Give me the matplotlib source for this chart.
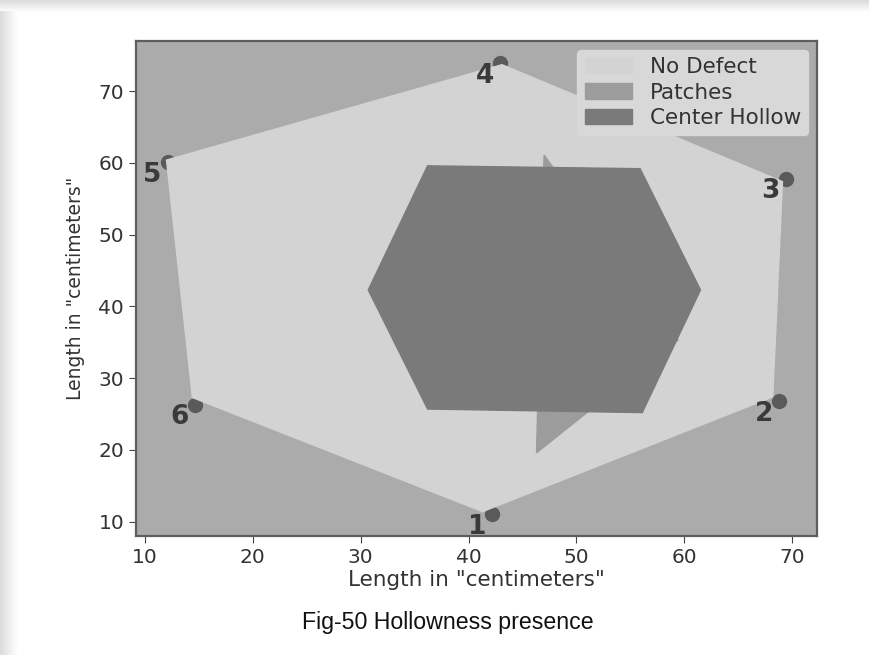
import matplotlib
matplotlib.use("Agg")
import matplotlib.pyplot as plt
from matplotlib import font_manager
from matplotlib.patches import Rectangle

# polygon outlines (x, y in centimeters)
no_defect_x = [41.3, 68.2, 69.1, 43.1, 12.0, 14.4]
no_defect_y = [11.4, 27.4, 57.4, 73.7, 60.4, 27.3]
patches_x = [47.0, 59.4, 46.3]
patches_y = [61.1, 35.3, 19.6]
hollow_x = [36.2, 55.9, 61.5, 56.1, 36.2, 30.7]
hollow_y = [59.6, 59.2, 42.3, 25.2, 25.7, 42.3]

# numbered measuring points
point_ids = ['1', '2', '3', '4', '5', '6']
point_x = [42.2, 68.8, 69.4, 42.9, 12.1, 14.6]
point_y = [11.0, 26.8, 57.8, 73.9, 60.1, 26.3]

# caption font: regular Liberation Sans (not the narrow one)
cap_font = None
for f in font_manager.findSystemFonts():
    if f.endswith('LiberationSans-Regular.ttf'):
        cap_font = font_manager.FontProperties(fname=f, size=16.7)
        break
if cap_font is None:
    cap_font = font_manager.FontProperties(family='Liberation Sans', size=16.7)

fig = plt.figure(figsize=(8.69, 6.55), dpi=100)

# page shadow behind the figure (screenshot look)
for i in range(12):
    c = 0.86 + 0.012 * i
    fig.patches.append(Rectangle((0, 1 - (i + 1) / 655), 1, 1 / 655, transform=fig.transFigure,
                                 facecolor=(c, c, c), edgecolor='none', zorder=-10))
for i in range(17):
    c = 0.86 + 0.008 * i
    fig.patches.append(Rectangle((i / 869, 0), 1 / 869, 1 - 11 / 655, transform=fig.transFigure,
                                 facecolor=(c, c, c), edgecolor='none', zorder=-10))

ax = fig.add_axes([136 / 869, 1 - 536 / 655, (817 - 136) / 869, (536 - 41) / 655])
ax.set_facecolor('#ababab')

ax.scatter(point_x, point_y, s=100, color='#5a5a5a', zorder=1)
ax.fill(no_defect_x, no_defect_y, color='#d3d3d3', label='No Defect', zorder=2)
ax.fill(patches_x, patches_y, color='#9c9c9c', label='Patches', zorder=3)
ax.fill(hollow_x, hollow_y, color='#7a7a7a', label='Center Hollow', zorder=4)

for pid, px, py in zip(point_ids, point_x, point_y):
    ax.annotate(pid, (px, py), xytext=(-11, -9), textcoords='offset points',
                ha='center', va='center', fontsize=19, fontweight='bold',
                color='#3a3a3a', zorder=5)

ax.set_xlim(9.17, 72.3)
ax.set_ylim(8.0, 77.0)
ax.set_xticks([10, 20, 30, 40, 50, 60, 70])
ax.set_yticks([10, 20, 30, 40, 50, 60, 70])
ax.tick_params(labelsize=14.5, colors='#444444', labelcolor='#333333', length=5)
for sp in ax.spines.values():
    sp.set_color('#5e5e5e')
    sp.set_linewidth(1.6)

ax.set_xlabel('Length in "centimeters"', fontsize=15.5, color='#333333', labelpad=2)
ax.set_ylabel('Length in "centimeters"', fontsize=13.5, color='#333333', labelpad=10)

leg = ax.legend(loc='upper right', fontsize=15.5, facecolor='#d8d8d8', edgecolor='#d8d8d8',
                framealpha=1, fancybox=True, borderaxespad=0.4, labelspacing=0.25,
                handlelength=2.2, borderpad=0.35)
for t in leg.get_texts():
    t.set_color('#333333')

fig.text(448 / 869, 1 - 622 / 655, 'Fig-50 Hollowness presence', ha='center', va='center',
         fontproperties=cap_font, color='#111111')

fig.savefig('out.png', dpi=100)
